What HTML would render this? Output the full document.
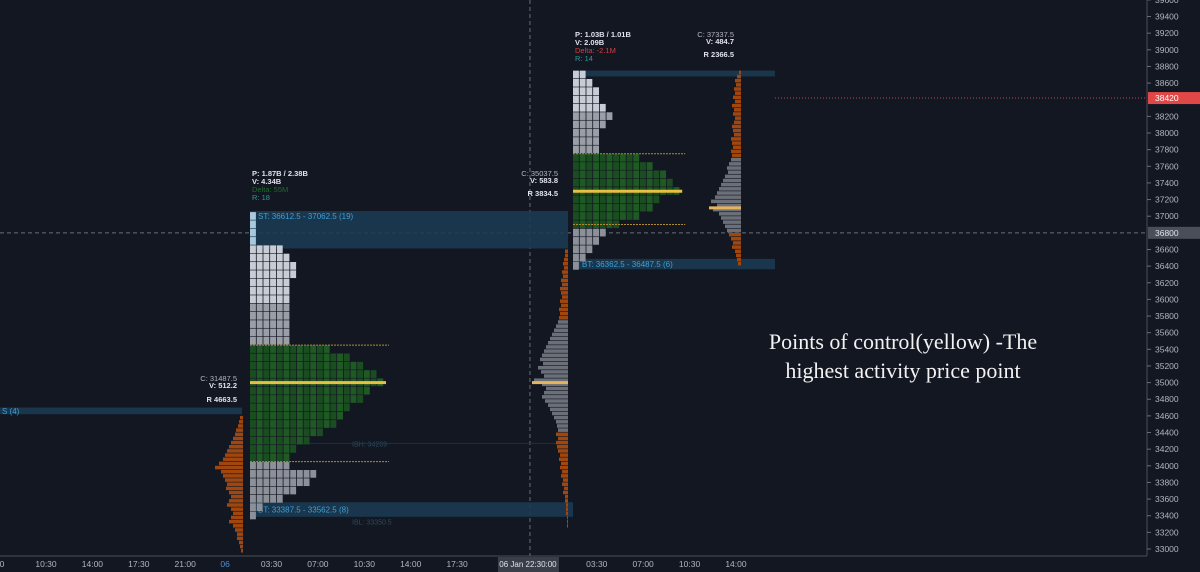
<!DOCTYPE html>
<html><head><meta charset="utf-8">
<style>
html,body{margin:0;padding:0;background:#131722;}
svg{display:block;font-family:"Liberation Sans",sans-serif;}
</style></head>
<body>
<svg id="chart" width="1200" height="572" viewBox="0 0 1200 572">
<rect x="0" y="0" width="1200" height="572" fill="#131722"/>
<g id="axes"></g>
<g id="boxes"></g>
<g id="vps"></g>
<g id="tpo"></g>
<g id="labels"></g>
<text x="903" y="349" text-anchor="middle" fill="#f2f2f2" font-family="'Liberation Serif',serif" font-size="22">Points of control(yellow) -The</text>
<text x="903" y="378" text-anchor="middle" fill="#f2f2f2" font-family="'Liberation Serif',serif" font-size="22">highest activity price point</text>
</svg>
<script>
// ---- data ----
const priceTicks = [39600,39400,39200,39000,38800,38600,38200,38000,37800,37600,37400,37200,37000,36600,36400,36200,36000,35800,35600,35400,35200,35000,34800,34600,34400,34200,34000,33800,33600,33400,33200,33000];
const timeLabels = ["00","10:30","14:00","17:30","21:00","06","03:30","07:00","10:30","14:00","17:30","03:30","07:00","10:30","14:00"];
const timeSlots = [0,1,2,3,4,4.86,5.86,6.86,7.86,8.86,9.86,12.87,13.87,14.87,15.87];
const crossSlot = 11.43;
const lastPrice = 38420;
const crossPrice = 36800;
// TPO profile 1 (top price 37000, step 100), column counts
const tpo1Top = 37000;
const tpo1Counts = [1,1,1,1,5,6,7,7,6,6,6,6,6,6,6,6,12,15,17,19,20,18,17,15,14,13,11,9,7,6,6,10,9,7,5,2,1];
const tpo1VA = [35450,34050];
const tpo1POC = 35000;
// TPO profile 2 (top price 38700, step 100)
const tpo2Top = 38700;
const tpo2Counts = [2,3,4,4,5,6,5,4,4,4,10,12,14,15,16,13,12,10,7,5,4,3,2,1];
const tpo2VA = [37750,36900];
const tpo2POC = 37300;
// Session volume profiles (step 50)
const vp1Top = 34600;
const vp1Vals = [3,4,5,7,8,10,12,14,16,18,20,24,28,22,20,18,16,17,14,12,14,16,12,10,12,14,10,8,6,6,4,3,2];
const vp2Top = 36600;
const vp2Vals = [3,3,4,5,4,6,5,7,6,8,7,6,8,7,9,8,9,10,12,14,16,18,20,22,24,26,28,25,30,27,24,34,26,22,24,26,23,20,18,16,14,12,11,10,12,10,12,11,10,8,9,7,8,6,7,5,6,4,5,3,3,2,2,2,1,1,1];
const vp2Gray = [35750,34450];
const vp2POC = 35000;
const vp3Top = 38750;
const vp3Vals = [2,4,6,5,7,6,8,6,9,7,8,6,7,9,8,7,10,9,8,10,9,10,12,14,13,16,18,20,22,24,26,30,24,28,22,20,18,16,14,12,10,8,9,6,5,4,3];
const vp3Gray = [37700,36850];
const vp3POC = 37100;

// ---- scales ----
const Y = p => 549 - (p - 33000) * 0.0832;
const X = s => s * 46.4 - 0.4;
const NS = "http://www.w3.org/2000/svg";
function mk(parent, tag, attrs, text){
  const el = document.createElementNS(NS, tag);
  for (const k in attrs) el.setAttribute(k, attrs[k]);
  if (text !== undefined) el.textContent = text;
  document.getElementById(parent).appendChild(el);
  return el;
}
let e;
// axes
e = mk("axes","line",{x1:1147,y1:0,x2:1147,y2:556,stroke:"#4a4e58","stroke-width":1});


e = mk("axes","line",{x1:0,y1:556,x2:1147,y2:556,stroke:"#4a4e58","stroke-width":1});


priceTicks.forEach(p=>{
  const t = mk("axes","text",{x:1155,y:Y(p)+3,fill:"#b2b5be","font-size":8.5},String(p));
  
  
  const tk = mk("axes","line",{x1:1147,y1:Y(p),x2:1151,y2:Y(p),stroke:"#6a6e78"});
  
  
});
timeLabels.forEach((l,i)=>{
  const t = mk("axes","text",{x:X(timeSlots[i]),y:567,fill:l==="06"?"#4a90d9":"#b2b5be","font-size":8.5,"text-anchor":"middle"},l);
  
  
});
const cx = X(crossSlot);
e = mk("axes","rect",{x:cx-32,y:557,width:61,height:15,fill:"#3a3e48"});


e = mk("axes","text",{x:cx-2,y:567,fill:"#e0e3eb","font-size":8,"text-anchor":"middle"},"06 Jan 22:30:00");


// crosshair
e = mk("axes","line",{x1:cx,y1:0,x2:cx,y2:556,stroke:"#6a6e78","stroke-dasharray":"4 3"});


e = mk("axes","line",{x1:0,y1:Y(crossPrice),x2:1147,y2:Y(crossPrice),stroke:"#6a6e78","stroke-dasharray":"4 3"});


e = mk("axes","rect",{x:1148,y:Y(crossPrice)-6,width:52,height:12,fill:"#4a4e58"});


e = mk("axes","text",{x:1155,y:Y(crossPrice)+3,fill:"#e0e3eb","font-size":8.5},String(crossPrice));


e = mk("axes","line",{x1:775,y1:Y(lastPrice),x2:1147,y2:Y(lastPrice),stroke:"#b84a4a","stroke-dasharray":"1 2"});


e = mk("axes","rect",{x:1148,y:Y(lastPrice)-6,width:52,height:12,fill:"#e04848"});


e = mk("axes","text",{x:1155,y:Y(lastPrice)+3,fill:"#ffffff","font-size":8.5},String(lastPrice));



// blue range boxes
const boxFill = "#1c3a52";
[[0,Y(34700),242,Y(34620),"single-print-box-left"],
 [250,Y(37062),568,Y(36612),"st-box-1"],
 [250,Y(33562),573,Y(33387),"bt-box-1"],
 [573,Y(38750),775,Y(38680),"top-box-2"],
 [573,Y(36487),775,Y(36362),"bt-box-2"]].forEach(b=>{
  const r = mk("boxes","rect",{x:b[0],y:b[1],width:b[2]-b[0],height:b[3]-b[1],fill:boxFill,opacity:0.9});
  
  
});
[[2,Y(34660)+3,"S (4)"],[258,Y(37000)+3,"ST: 36612.5 - 37062.5 (19)"],[258,Y(33475)+3,"BT: 33387.5 - 33562.5 (8)"],[582,Y(36425)+3,"BT: 36362.5 - 36487.5 (6)"]].forEach(t=>{
  const x = mk("boxes","text",{x:t[0],y:t[1],fill:"#3aa0d8","font-size":8},t[2]);
  
  
});
e = mk("boxes","text",{x:352,y:Y(34269)+3,fill:"#2d4a5e","font-size":7},"IBH: 34269");


e = mk("boxes","line",{x1:250,y1:Y(34269),x2:568,y2:Y(34269),stroke:"#22303f"});


e = mk("boxes","text",{x:352,y:Y(33330)+3,fill:"#2d4a5e","font-size":7},"IBL: 33350.5");



// volume profiles (right aligned)
function drawVP(top, vals, right, grayRange, poc, name){
  vals.forEach((v,i)=>{
    const p = top - i*50;
    const gray = grayRange && p <= grayRange[0] && p >= grayRange[1];
    const r = mk("vps","rect",{x:right - v, y:Y(p), width:v, height:50*0.0832*0.85, fill: gray ? "#6b6f78" : "#a0460f"});
    
    
  });
  if (poc){
    const w = Math.max(...vals) + 2;
    const r = mk("vps","rect",{x:right - w, y:Y(poc)-1.5, width:w, height:3, fill:"#e6b45a"});
    
    
  }
}
drawVP(vp1Top, vp1Vals, 243, null, null, "session-volume-1");
drawVP(vp2Top, vp2Vals, 568, vp2Gray, vp2POC, "session-volume-2");
drawVP(vp3Top, vp3Vals, 741, vp3Gray, vp3POC, "session-volume-3");

// TPO profiles
const colW = 6.7;
function drawTPO(top, counts, x0, va, poc, name){
  counts.forEach((c,i)=>{
    const p = top - i*100;
    const inVA = p <= va[0] && p >= va[1];
    for (let k=0;k<c;k++){
      let fill;
      if (inVA) fill = k%2 ? "#1f5a25" : "#1a4e21";
      else if (p > va[0]) fill = (i < 4 && c===1 && name==="tpo-1") ? "#a8c8dc" : (p > va[0]+500 ? "#c8ccd4" : "#9a9ea6");
      else fill = "#8c9098";
      const r = mk("tpo","rect",{x:x0 + k*colW, y:Y(p)-4.1, width:colW-0.8, height:7.7, fill:fill});
      
      
    }
  });
  const maxC = Math.max(...counts);
  va.forEach(v=>{
    const l = mk("tpo","line",{x1:x0, y1:Y(v), x2:x0 + maxC*colW + 5, y2:Y(v), stroke:"#b08a30","stroke-dasharray":"2 1"});
    
    
  });
  const pl = mk("tpo","rect",{x:x0, y:Y(poc)-1.5, width:maxC*colW+2, height:3, fill:"#e8c040"});
  
  
}
drawTPO(tpo1Top, tpo1Counts, 250, tpo1VA, tpo1POC, "tpo-1");
drawTPO(tpo2Top, tpo2Counts, 573, tpo2VA, tpo2POC, "tpo-2");

// stat labels
function lbl(x,y,t,fill,anchor,bold){
  const el = mk("labels","text",{x:x,y:y,fill:fill,"font-size":7.5,"text-anchor":anchor||"start","font-weight":bold?"bold":"normal"},t);
  
  
}
lbl(252,176,"P: 1.87B / 2.38B","#e0e3eb","start",true);
lbl(252,184,"V: 4.34B","#e0e3eb","start",true);
lbl(252,192,"Delta: 55M","#1e6b2a");
lbl(252,200,"R: 18","#2a9a9a");
lbl(237,381,"C: 31487.5","#b2b5be","end");
lbl(237,388,"V: 512.2","#e0e3eb","end",true);
lbl(237,402,"R 4663.5","#e0e3eb","end",true);
lbl(575,37,"P: 1.03B / 1.01B","#e0e3eb","start",true);
lbl(575,45,"V: 2.09B","#e0e3eb","start",true);
lbl(575,53,"Delta: -2.1M","#d04040");
lbl(575,61,"R: 14","#2a9a9a");
lbl(734,37,"C: 37337.5","#b2b5be","end");
lbl(734,44,"V: 484.7","#e0e3eb","end",true);
lbl(734,57,"R 2366.5","#e0e3eb","end",true);
lbl(558,176,"C: 35037.5","#b2b5be","end");
lbl(558,183,"V: 583.8","#e0e3eb","end",true);
lbl(558,196,"R 3834.5","#e0e3eb","end",true);
</script>
</body></html>
